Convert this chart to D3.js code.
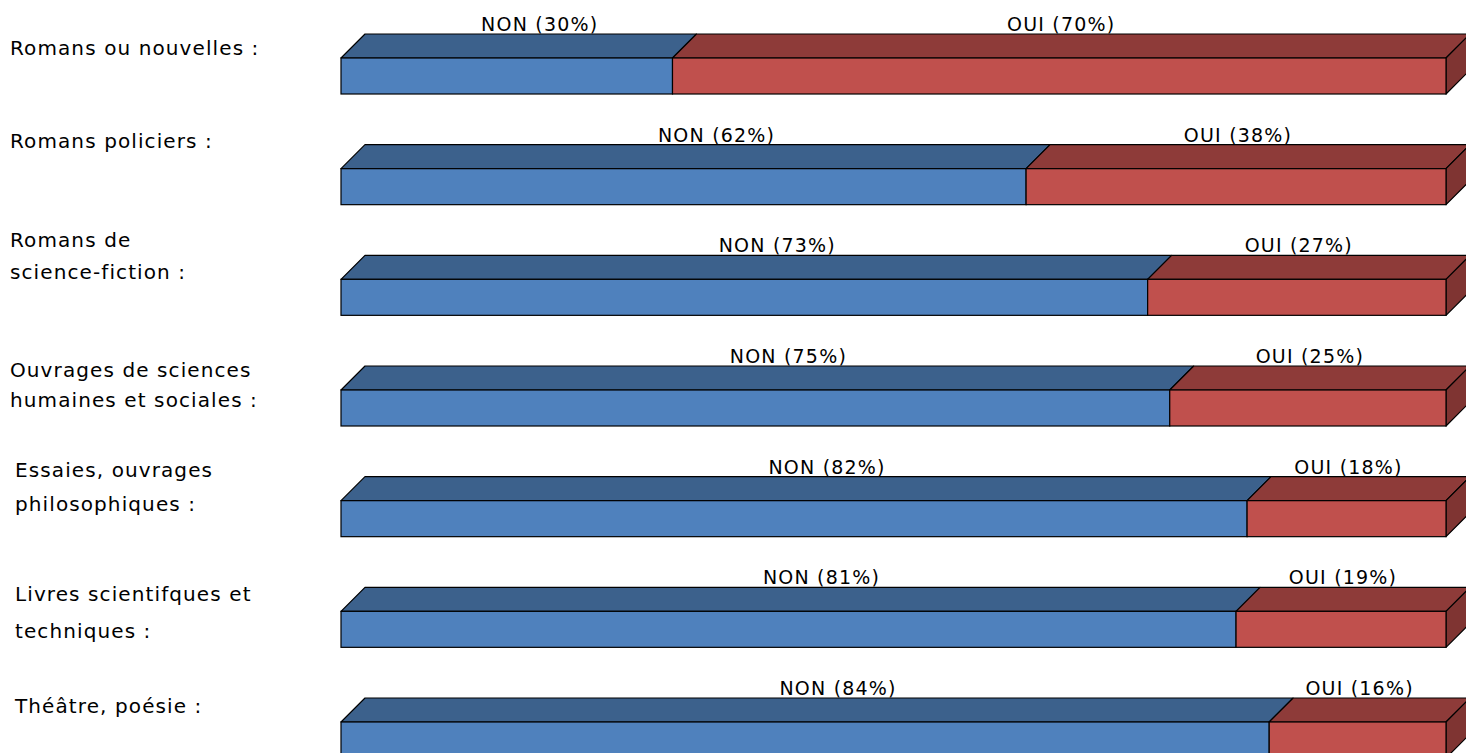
<!DOCTYPE html>
<html>
<head>
<meta charset="utf-8">
<script src="https://cdn.jsdelivr.net/npm/d3@7/dist/d3.min.js"></script>
<style>
  html, body { margin: 0; padding: 0; background: #fff; overflow: hidden; }
  svg { display: block; }
  text { font-family: "DejaVu Sans", sans-serif; fill: #000; }
</style>
</head>
<body>
<svg id="chart" width="1466" height="753"></svg>
<script>
// ---- data ----
const categories = [
  ["Romans ou nouvelles :"],
  ["Romans policiers :"],
  ["Romans de", "science-fiction :"],
  ["Ouvrages de sciences", "humaines et sociales :"],
  ["Essaies, ouvrages", "philosophiques :"],
  ["Livres scientifques et", "techniques :"],
  ["Théâtre, poésie :"]
];
const seriesNames = ["NON", "OUI"];
const nonValues = [30, 62, 73, 75, 82, 81, 84];
const ouiValues = [70, 38, 27, 25, 18, 19, 16];

// ---- layout ----
const depth = 24;          // 3D depth offset
const barH = 36;           // front face height
const labelDy = [-28, -46, -41, -23, -32, -17, -34]; // row label offsets from bar centre
const labelDx = [10, 10, 10, 10, 15, 15, 15];
const labelLH = [31, 31, 32, 30, 34, 37, 31];

const svg = d3.select("#chart");

const x = d3.scaleLinear().domain([0, 100]).range([341, 1446]);
const y = d3.scalePoint()
  .domain(d3.range(categories.length))
  .range([58, 722]);

const colors = {
  NON: { front: "#4F81BD", top: "#3C618C", side: "#3A5F8A" },
  OUI: { front: "#C0504D", top: "#8E3B39", side: "#7F3432" }
};

const rows = categories.map((c, i) => {
  const segs = [];
  let acc = 0;
  [nonValues[i], ouiValues[i]].forEach((v, k) => {
    segs.push({ name: seriesNames[k], v, x0: acc, x1: acc + v, last: k === 1 });
    acc += v;
  });
  return { i, lines: c, segs };
});

const g = svg.selectAll("g.row").data(rows).join("g").attr("class", "row");

g.each(function(r) {
  const gg = d3.select(this);
  const t = y(r.i);
  r.segs.forEach(s => {
    const a = x(s.x0), b = x(s.x1);
    const c = colors[s.name];
    // top face
    gg.append("path")
      .attr("d", `M${a},${t} L${a + depth},${t - depth} L${b + depth},${t - depth} L${b},${t} Z`)
      .attr("fill", c.top).attr("stroke", "#000").attr("stroke-width", 1.2)
      .attr("stroke-linejoin", "round");
    // side face for last segment
    if (s.last) {
      gg.append("path")
        .attr("d", `M${b},${t} L${b + depth},${t - depth} L${b + depth},${t - depth + barH} L${b},${t + barH} Z`)
        .attr("fill", c.side).attr("stroke", "#000").attr("stroke-width", 1.2)
        .attr("stroke-linejoin", "round");
    }
    // front face
    gg.append("rect")
      .attr("x", a).attr("y", t).attr("width", b - a).attr("height", barH)
      .attr("fill", c.front).attr("stroke", "#000").attr("stroke-width", 1.2);
    // value label
    const cx = (a + b) / 2 + (s.name === "NON" ? 33 : 2);
    gg.append("text")
      .attr("x", cx).attr("y", t - depth - 3)
      .attr("text-anchor", "middle")
      .attr("font-size", 19)
      .attr("letter-spacing", 1.2)
      .text(`${s.name} (${s.v}%)`);
  });
  // category label
  const n = r.lines.length;
  const cy = t + barH / 2 + labelDy[r.i];
  const lh = labelLH[r.i];
  gg.append("text")
    .attr("font-size", 20)
    .attr("letter-spacing", 1.1)
    .selectAll("tspan").data(r.lines).join("tspan")
    .attr("x", labelDx[r.i])
    .attr("y", (d, k) => cy + (k - (n - 1) / 2) * lh + 7)
    .text(d => d);
});
</script>
</body>
</html>
